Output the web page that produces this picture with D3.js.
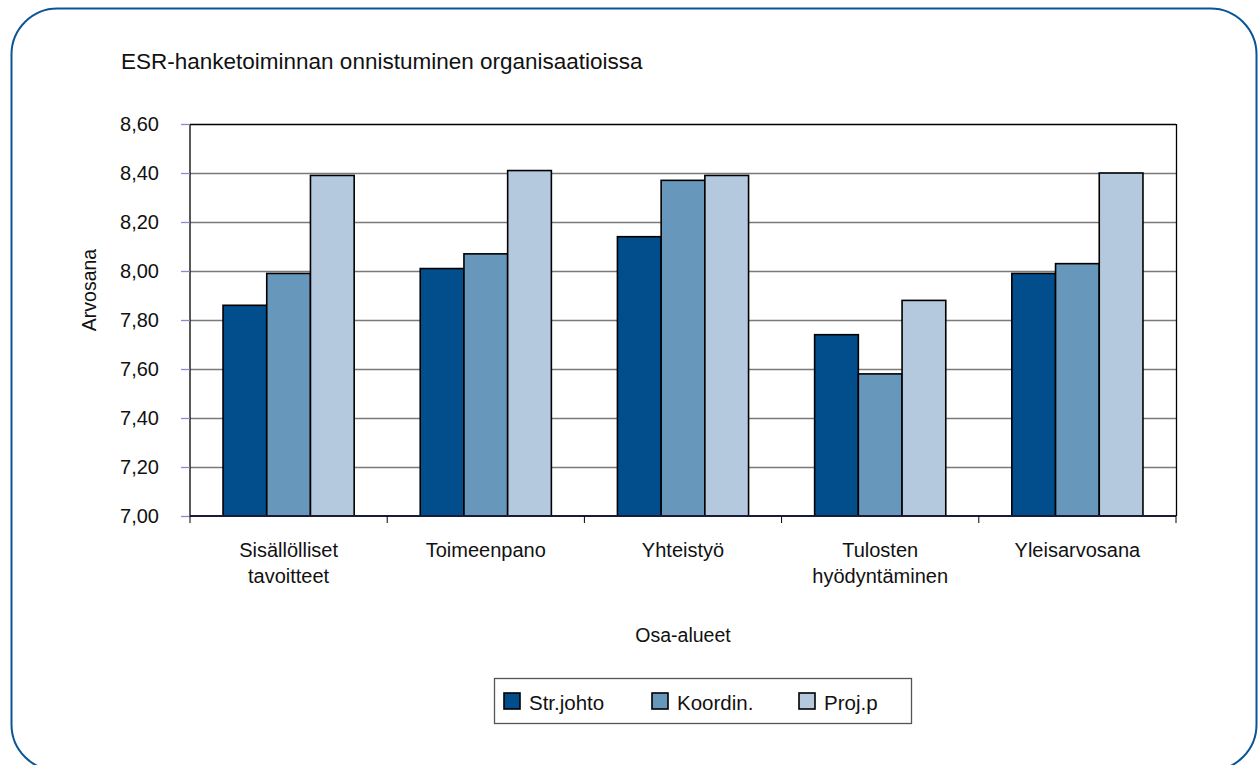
<!DOCTYPE html>
<html>
<head>
<meta charset="utf-8">
<script src="https://cdn.jsdelivr.net/npm/d3@7"></script>
<style>
  body { margin: 0; background: #fff; }
  svg text { font-family: "Liberation Sans", Arial, sans-serif; fill: #111; }
</style>
</head>
<body>
<svg id="chart"></svg>
<script>
var categories = [["Sisällölliset", "tavoitteet"], ["Toimeenpano"], ["Yhteistyö"], ["Tulosten", "hyödyntäminen"], ["Yleisarvosana"]];
var seriesNames = ["Str.johto", "Koordin.", "Proj.p"];
var strJohto = [7.86, 8.01, 8.14, 7.74, 7.99];
var koordin = [7.99, 8.07, 8.37, 7.58, 8.03];
var projP = [8.39, 8.41, 8.39, 7.88, 8.40];
var yTicks = [7.0, 7.2, 7.4, 7.6, 7.8, 8.0, 8.2, 8.4, 8.6];
var colors = ["#024e8d", "#6897bc", "#b4c9de"];

var width = 1258, height = 765;
var plotL = 190, plotR = 1176, plotT = 124, plotB = 516;

var svg = d3.select("#chart").attr("width", width).attr("height", height);

// frame
svg.append("rect")
   .attr("x", 11.5).attr("y", 8.5)
   .attr("width", 1245).attr("height", 762)
   .attr("rx", 46).attr("ry", 46)
   .attr("fill", "none").attr("stroke", "#0a5596").attr("stroke-width", 2);

svg.append("text").attr("x", 121).attr("y", 69)
   .attr("font-size", 22.5).text("ESR-hanketoiminnan onnistuminen organisaatioissa");

var y = d3.scaleLinear().domain([7.0, 8.6]).range([plotB, plotT]);
var x0 = d3.scaleBand().domain(d3.range(categories.length)).range([plotL, plotR]);
var bw = x0.bandwidth();
var x1 = d3.scaleBand().domain(d3.range(seriesNames.length)).range([bw * 0.1675, bw * 0.8325]);

// grid
svg.selectAll(".grid").data(yTicks.slice(1))
   .enter().append("line")
   .attr("x1", plotL).attr("x2", plotR)
   .attr("y1", function(d){ return Math.round(y(d)) + 0.5; })
   .attr("y2", function(d){ return Math.round(y(d)) + 0.5; })
   .attr("stroke", function(d){ return d == 8.6 ? "#000" : "#7a7a7a"; })
   .attr("stroke-width", 1.3);

svg.append("line").attr("x1", plotR + 0.5).attr("x2", plotR + 0.5)
   .attr("y1", plotT).attr("y2", plotB).attr("stroke", "#000").attr("stroke-width", 1.3);

// bars
var rows = [strJohto, koordin, projP];
var barData = [];
categories.forEach(function(c, i){
  rows.forEach(function(r, j){ barData.push({cat: i, s: j, v: r[i]}); });
});

svg.selectAll(".bar").data(barData).enter().append("rect")
   .attr("x", function(d){ return x0(d.cat) + x1(d.s); })
   .attr("y", function(d){ return y(d.v); })
   .attr("width", x1.bandwidth())
   .attr("height", function(d){ return plotB - y(d.v); })
   .attr("fill", function(d){ return colors[d.s]; })
   .attr("stroke", "#000").attr("stroke-width", 1.6);

// y axis
var yAxis = d3.axisLeft(y).tickValues(yTicks).tickSize(9).tickPadding(22)
   .tickFormat(function(d){ return d3.format(".2f")(d).replace(".", ","); });
var ya = svg.append("g").attr("transform", "translate(" + plotL + ",0)").call(yAxis);
ya.select(".domain").attr("stroke", "#000").attr("stroke-width", 1.3).attr("d", "M0," + plotT + "V" + plotB);
ya.selectAll(".tick line").attr("stroke", "#8a8ac8").attr("stroke-width", 1.3);
ya.selectAll(".tick text").attr("font-size", 20).attr("font-family", "Liberation Sans, Arial, sans-serif").attr("fill", "#111");

// x axis
var xa = svg.append("g").attr("transform", "translate(0," + plotB + ")");
xa.append("line").attr("x1", plotL).attr("x2", plotR).attr("stroke", "#1a1a3a").attr("stroke-width", 2);
xa.selectAll(".xt").data(d3.range(categories.length + 1)).enter().append("line")
   .attr("x1", function(d){ return plotL + d * bw; })
   .attr("x2", function(d){ return plotL + d * bw; })
   .attr("y1", 0).attr("y2", 7).attr("stroke", "#000").attr("stroke-width", 1);

xa.selectAll(".xl").data(categories).enter().append("text")
   .attr("text-anchor", "middle").attr("font-size", 20)
   .attr("x", function(d, i){ return x0(i) + bw / 2; })
   .attr("y", 41)
   .each(function(d){
     var t = d3.select(this);
     d.forEach(function(line, k){
       t.append("tspan").attr("x", t.attr("x")).attr("dy", k == 0 ? 0 : 26).text(line);
     });
   });

svg.append("text").attr("x", (plotL + plotR) / 2).attr("y", 642)
   .attr("text-anchor", "middle").attr("font-size", 19.5).text("Osa-alueet");

svg.append("text").attr("transform", "translate(96,290) rotate(-90)")
   .attr("text-anchor", "middle").attr("font-size", 19.5).text("Arvosana");

// legend
var legend = svg.append("g");
legend.append("rect").attr("x", 494.5).attr("y", 678.5).attr("width", 417).attr("height", 45)
   .attr("fill", "none").attr("stroke", "#555").attr("stroke-width", 1.3);
var legX = [504, 652, 799];
seriesNames.forEach(function(n, i){
  legend.append("rect").attr("x", legX[i]).attr("y", 693).attr("width", 16).attr("height", 16)
     .attr("fill", colors[i]).attr("stroke", "#000").attr("stroke-width", 1.6);
  legend.append("text").attr("x", legX[i] + 25).attr("y", 710).attr("font-size", 20.5).text(n);
});
</script>
</body>
</html>
